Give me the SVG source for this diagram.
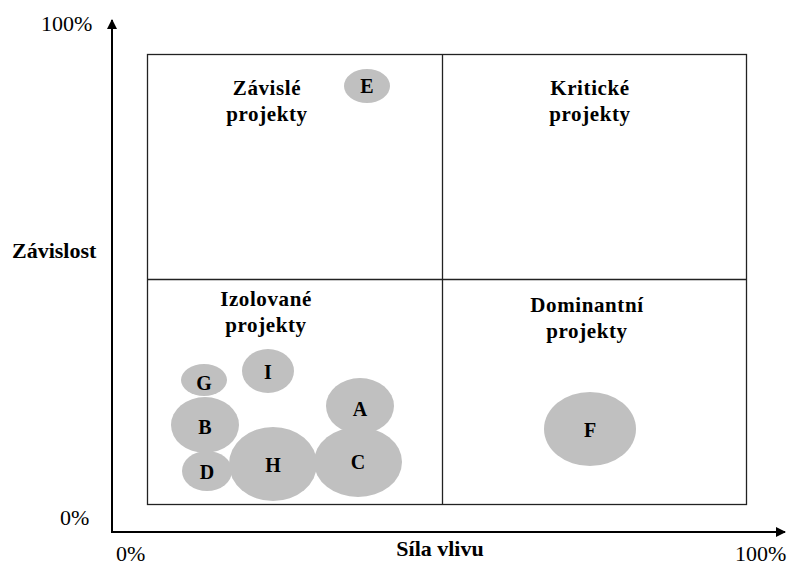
<svg xmlns="http://www.w3.org/2000/svg" width="789" height="566" viewBox="0 0 789 566" font-family="'Liberation Serif', 'Times New Roman', Times, serif">
  <style>
    text { font-family: "Liberation Serif", "Times New Roman", Times, serif; fill: #000; }
    .tick { font-size: 22px; }
    .axis-title { font-size: 22px; font-weight: bold; }
    .quad { font-size: 21px; font-weight: bold; text-anchor: middle; letter-spacing: 0.6px; }
    .bubble ellipse { fill: #c0c0c0; }
    .bubble text { font-size: 20px; font-weight: bold; text-anchor: middle; }
    .grid { fill: none; stroke: #222; stroke-width: 1.3; }
    .axis { stroke: #000; stroke-width: 2; fill: none; }
  </style>
  <defs>
    <marker id="arrow" viewBox="0 0 10 10" refX="9" refY="5" markerWidth="5" markerHeight="5" orient="auto">
      <path d="M0,0 L10,5 L0,10 Z" fill="#000"/>
    </marker>
  </defs>
  <rect width="789" height="566" fill="#fff"/>

  <!-- axes with their scale marks and titles -->
  <g id="axes">
    <line class="axis" x1="112" y1="532" x2="112" y2="20" marker-end="url(#arrow)"/>
    <line class="axis" x1="111" y1="532" x2="785" y2="532" marker-end="url(#arrow)"/>
    <text class="tick" x="41" y="31">100%</text>
    <text class="tick" x="60" y="525">0%</text>
    <text class="tick" x="116" y="561">0%</text>
    <text class="tick" x="735" y="561">100%</text>
    <text class="axis-title" x="12" y="258">Závislost</text>
    <text class="axis-title" x="440" y="556" text-anchor="middle">Síla vlivu</text>
  </g>

  <!-- quadrant grid -->
  <g id="grid">
    <rect class="grid" x="147.5" y="54.5" width="599" height="450"/>
    <line class="grid" x1="442.5" y1="54.5" x2="442.5" y2="504.5"/>
    <line class="grid" x1="147.5" y1="279.5" x2="746.5" y2="279.5"/>
  </g>

  <!-- quadrant titles -->
  <g id="q-zavisle"><text class="quad" x="267" y="95">Závislé</text><text class="quad" x="267" y="121">projekty</text></g>
  <g id="q-kriticke"><text class="quad" x="590" y="95">Kritické</text><text class="quad" x="590" y="121">projekty</text></g>
  <g id="q-izolovane"><text class="quad" x="266" y="306">Izolované</text><text class="quad" x="266" y="332">projekty</text></g>
  <g id="q-dominantni"><text class="quad" x="587" y="312">Dominantní</text><text class="quad" x="587" y="338">projekty</text></g>

  <!-- project bubbles -->
  <g id="E" class="bubble"><ellipse cx="367" cy="86" rx="23" ry="17"/><text x="367" y="93">E</text></g>
  <g id="G" class="bubble"><ellipse cx="204" cy="380" rx="23" ry="16"/><text x="204" y="390">G</text></g>
  <g id="I" class="bubble"><ellipse cx="268" cy="371" rx="26" ry="22"/><text x="268" y="379">I</text></g>
  <g id="B" class="bubble"><ellipse cx="205" cy="425" rx="34" ry="28"/><text x="205" y="434">B</text></g>
  <g id="A" class="bubble"><ellipse cx="360" cy="406" rx="34" ry="28"/><text x="360" y="416">A</text></g>
  <g id="D" class="bubble"><ellipse cx="207" cy="471" rx="25" ry="20"/><text x="207" y="479">D</text></g>
  <g id="H" class="bubble"><ellipse cx="273" cy="464" rx="44" ry="37"/><text x="273" y="472">H</text></g>
  <g id="C" class="bubble"><ellipse cx="358" cy="462" rx="44" ry="35"/><text x="358" y="469">C</text></g>
  <g id="F" class="bubble"><ellipse cx="590" cy="429" rx="46" ry="37"/><text x="590" y="437">F</text></g>
</svg>
